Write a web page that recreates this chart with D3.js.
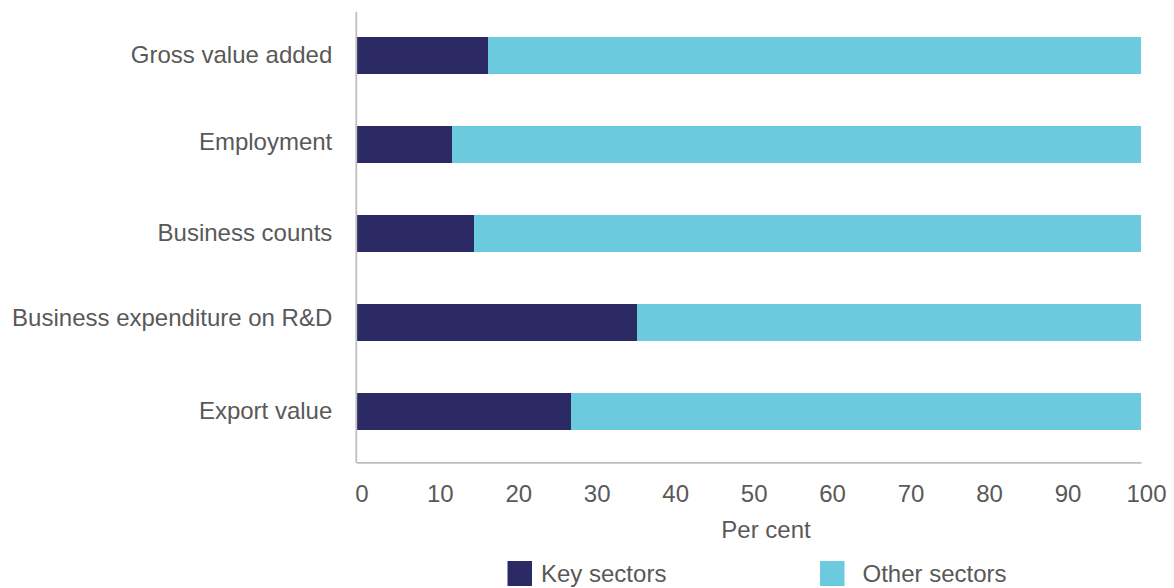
<!DOCTYPE html>
<html>
<head>
<meta charset="utf-8">
<script src="https://cdn.jsdelivr.net/npm/d3@7"></script>
<style>
  html, body { margin: 0; padding: 0; background: #ffffff; }
  svg { display: block; }
  text { font-family: "Liberation Sans", Arial, sans-serif; fill: #595959; }
</style>
</head>
<body>
<svg id="chart" width="1174" height="588"></svg>
<script>
// Share of each measure held by key sectors vs. all other sectors (per cent)
const categories = [
  "Gross value added",
  "Employment",
  "Business counts",
  "Business expenditure on R&D",
  "Export value"
];
const keySectors = [16.8, 12.2, 15.0, 35.8, 27.4];
const otherSectors = [83.2, 87.8, 85.0, 64.2, 72.6];
const seriesNames = ["Key sectors", "Other sectors"];
const xTicks = [0, 10, 20, 30, 40, 50, 60, 70, 80, 90, 100];
const xTitle = "Per cent";

const colors = ["#2b2a64", "#6bcadd"];
const fontSize = 24;
// small vertical nudges (px) for the category labels
const labelNudge = [0, -2, 0, -5, -1];

const svg = d3.select("#chart");

const x = d3.scaleLinear().domain([0, 100]).range([356.3, 1141]);
const y = d3.scaleBand()
  .domain(categories)
  .range([11, 456.5])
  .paddingInner(0.585)
  .paddingOuter(0.2925);

const rows = categories.map((c, i) => ({ category: c, key: keySectors[i], other: otherSectors[i] }));
const stacked = d3.stack().keys(["key", "other"])(rows);

// Stacked bars
svg.append("g")
  .selectAll("g")
  .data(stacked)
  .join("g")
    .attr("fill", (d, i) => colors[i])
  .selectAll("rect")
  .data(d => d)
  .join("rect")
    .attr("x", d => x(d[0]))
    .attr("width", d => x(d[1]) - x(d[0]))
    .attr("y", d => y(d.data.category))
    .attr("height", y.bandwidth())
    .attr("shape-rendering", "crispEdges");

// Bottom axis
const xAxis = svg.append("g")
  .attr("transform", "translate(0,462.3)")
  .call(d3.axisBottom(x).tickValues(xTicks).tickSize(0).tickSizeOuter(0).tickPadding(23));
xAxis.select(".domain").attr("stroke", "#bfbfbf").attr("stroke-width", 1.8);
xAxis.selectAll("text")
  .attr("font-size", fontSize)
  .attr("dx", 5)
  .style("font-family", "'Liberation Sans', Arial, sans-serif")
  .attr("fill", "#595959");

// Left axis with category labels
const yAxis = svg.append("g")
  .attr("transform", "translate(356.3,0)")
  .call(d3.axisLeft(y).tickSize(0).tickPadding(24));
yAxis.select(".domain").remove();
yAxis.selectAll("text")
  .attr("font-size", fontSize)
  .attr("transform", (d, i) => `translate(0,${labelNudge[i]})`)
  .style("font-family", "'Liberation Sans', Arial, sans-serif")
  .attr("fill", "#595959");

svg.append("line")
  .attr("x1", 356.3).attr("x2", 356.3)
  .attr("y1", 12).attr("y2", 463)
  .attr("stroke", "#bfbfbf")
  .attr("stroke-width", 1.8);

// Axis title
svg.append("text")
  .attr("x", 766)
  .attr("y", 538)
  .attr("text-anchor", "middle")
  .attr("font-size", fontSize)
  .text(xTitle);

// Legend
const legendX = [507.5, 820];
const legend = svg.append("g")
  .selectAll("g")
  .data(seriesNames)
  .join("g")
    .attr("transform", (d, i) => `translate(${legendX[i]},561)`);
legend.append("rect")
  .attr("width", 24.5)
  .attr("height", 25)
  .attr("fill", (d, i) => colors[i]);
legend.append("text")
  .attr("x", (d, i) => i === 0 ? 33.5 : 42.5)
  .attr("y", 21)
  .attr("font-size", fontSize)
  .text(d => d);
</script>
</body>
</html>
